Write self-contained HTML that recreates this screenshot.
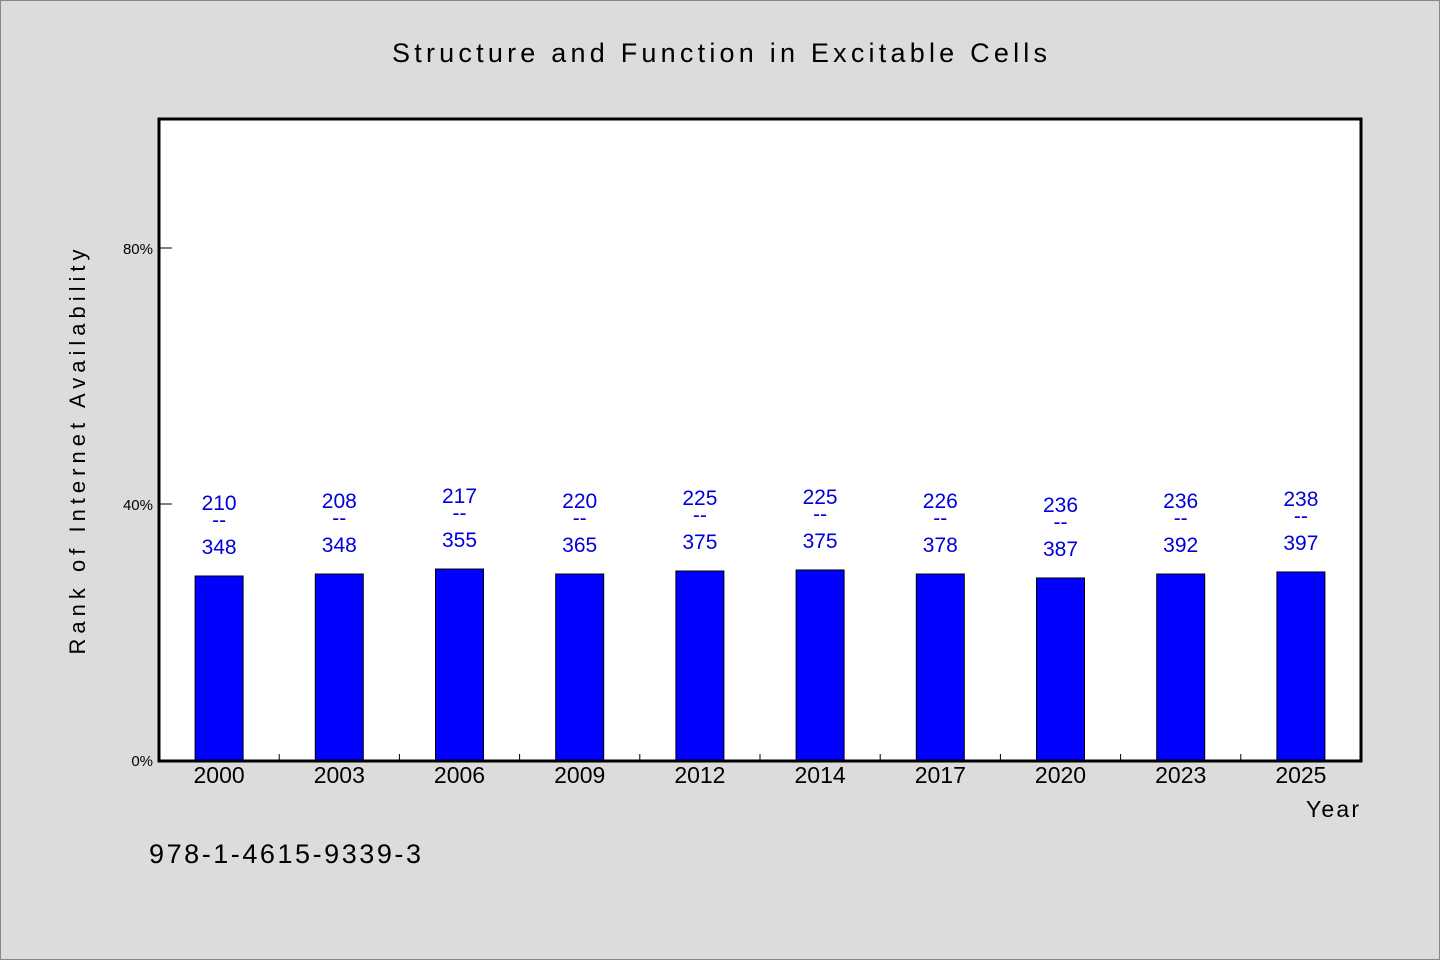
<!DOCTYPE html>
<html><head><meta charset="utf-8"><style>
html,body{margin:0;padding:0;background:#dcdcdc;}
svg{display:block;}
text{font-family:"WenQuanYi Zen Hei","Liberation Sans",sans-serif;}
</style></head><body>
<svg id="chart" width="1440" height="960" viewBox="0 0 1440 960" xmlns="http://www.w3.org/2000/svg">
<rect x="0.5" y="0.5" width="1439" height="959" fill="#dcdcdc" stroke="#888"/>
<text x="392" y="62" font-size="27" textLength="655" lengthAdjust="spacing">Structure and Function in Excitable Cells</text>
<rect x="159" y="119" width="1202" height="642" fill="#fff" stroke="#000" stroke-width="3"/>
<g id="yaxis"></g>
<g id="xaxis"></g>
<g id="bars"></g>
<g id="labels"></g>
<text transform="translate(85,452) rotate(-90)" text-anchor="middle" font-size="22" textLength="405" lengthAdjust="spacing">Rank of Internet Availability</text>
<text x="1306" y="817" font-size="23" textLength="53" lengthAdjust="spacing">Year</text>
<text x="149" y="863" font-size="27" textLength="272" lengthAdjust="spacing">978-1-4615-9339-3</text>
</svg>
<script>
const categories=["2000","2003","2006","2009","2012","2014","2017","2020","2023","2025"];
const values=[28.75,29.06,29.84,29.06,29.53,29.69,29.06,28.44,29.06,29.38];
const topLabels=["210","208","217","220","225","225","226","236","236","238"];
const bottomLabels=["348","348","355","365","375","375","378","387","392","397"];
const yTicks=[0,40,80];
const NS="http://www.w3.org/2000/svg";
const pLeft=159,pRight=1361,pTop=119,pBottom=760;
const yScale=v=>pBottom-v*6.4;
const band=(pRight-pLeft)/categories.length;
const xScale=i=>pLeft+band*i+band/2;
function mk(tag,attrs,parent,txt){const e=document.createElementNS(NS,tag);for(const k in attrs)e.setAttribute(k,attrs[k]);if(txt!==undefined)e.textContent=txt;parent.appendChild(e);return e;}
const ya=document.getElementById('yaxis'),xa=document.getElementById('xaxis'),bg=document.getElementById('bars'),lg=document.getElementById('labels');
yTicks.forEach(t=>{
  const l=mk('line',{x1:pLeft,x2:pLeft+13,y1:yScale(t),y2:yScale(t),stroke:'#000','stroke-width':1},ya);
  
  
  const tx=mk('text',{x:pLeft-6,y:yScale(t)+6,'text-anchor':'end','font-size':15},ya,t+'%');
  
  
});
categories.forEach((c,i)=>{
  if(i>0){const tk=mk('line',{x1:pLeft+band*i,x2:pLeft+band*i,y1:pBottom,y2:pBottom-6,stroke:'#000','stroke-width':1},xa);
  
  }
  const tl=mk('text',{x:xScale(i),y:pBottom+23,'text-anchor':'middle','font-size':23},xa,c);
  
  
  const bt=yScale(values[i]);
  const r=mk('rect',{x:xScale(i)-24,y:bt,width:48,height:pBottom-bt,fill:'#0000ff',stroke:'#000','stroke-width':1},bg);
  
  
  const cy=bt-55;
  const g=mk('g',{},lg);
  
  
  mk('text',{x:xScale(i),y:cy-11,'text-anchor':'middle','font-size':21,fill:'#0000dd'},g,topLabels[i]);
  mk('text',{x:xScale(i),y:cy+6,'text-anchor':'middle','font-size':21,fill:'#0000dd'},g,'--');
  mk('text',{x:xScale(i),y:cy+33,'text-anchor':'middle','font-size':21,fill:'#0000dd'},g,bottomLabels[i]);
});
</script>
</body></html>
